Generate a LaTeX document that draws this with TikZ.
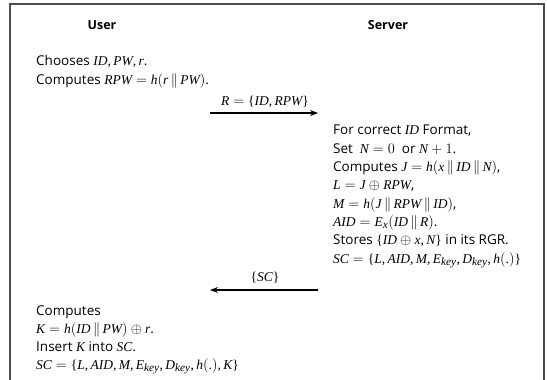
\documentclass[tikz,border=0pt]{standalone}
\usepackage{fontspec}
\setmainfont{Liberation Serif}
\setsansfont{Open Sans}
\usepackage[italic]{mathastext}
\usepackage{tikz}
\usetikzlibrary{arrows.meta}

\begin{document}
\begin{tikzpicture}[
  x=1pt, y=-1pt,
  font=\sffamily\fontsize{13.5}{18.2}\selectfont,
  >={Stealth[length=8pt,width=6pt]},
  frame/.style={draw=black!70, line width=1.3pt},
  head/.style={font=\sffamily\bfseries\fontsize{12.5}{14}\selectfont, anchor=base, inner sep=0pt},
  blk/.style={anchor=base west, align=left, inner sep=0pt},
  msg/.style={->, line width=1.2pt},
  lbl/.style={anchor=base, inner sep=0pt},
]
  \useasboundingbox (0,0) rectangle (547,380);

  % -------- frame (open at the bottom) --------
  \draw[frame] (10,381) -- (10,4) -- (544,4) -- (544,381);

  % -------- headers --------
  \node[head] (user) at (102,30) {User};
  \node[head] (server) at (388,30) {Server};

  % -------- user: registration request --------
  % base = baseline of the last line
  \node[blk] (U1) at (36,84) {%
    Chooses $ID, PW, r$.\\
    Computes $RPW = h(r \,\|\, PW)$.
  };

  % -------- message 1 --------
  \coordinate (m1s) at (210,113);
  \coordinate (m1e) at (318,113);
  \draw[msg] (m1s) -- (m1e);
  \node[lbl] (R) at (265,105) {$R = \{ID, RPW\}$};

  % -------- server --------
  \node[blk, font=\sffamily\fontsize{13.5}{18.3}\selectfont] (S1) at (333,263) {%
    For correct $ID$ Format,\\
    Set\ \ $N = 0$\ \ or $N + 1$.\\
    Computes $J = h(x \,\|\, ID \,\|\, N)$,\\
    $L = J \oplus RPW$,\\
    $M = h(J \,\|\, RPW \,\|\, ID)$,\\
    $AID = E_x(ID \,\|\, R)$.\\
    Stores $\{ID \oplus x, N\}$ in its RGR.\\
    $SC = \{L, AID, M, E_{key}, D_{key}, h(.)\}$
  };

  % -------- message 2 --------
  \coordinate (m2s) at (318,290);
  \coordinate (m2e) at (210,290);
  \draw[msg] (m2s) -- (m2e);
  \node[lbl] (SC) at (265,281) {$\{SC\}$};

  % -------- user: smart card update --------
  \node[blk, font=\sffamily\fontsize{13.5}{18}\selectfont] (U2) at (36,369) {%
    Computes\\
    $K = h(ID \,\|\, PW) \oplus r$.\\
    Insert $K$ into $SC$.\\
    $SC = \{L, AID, M, E_{key}, D_{key}, h(.), K\}$
  };
\end{tikzpicture}
\end{document}
